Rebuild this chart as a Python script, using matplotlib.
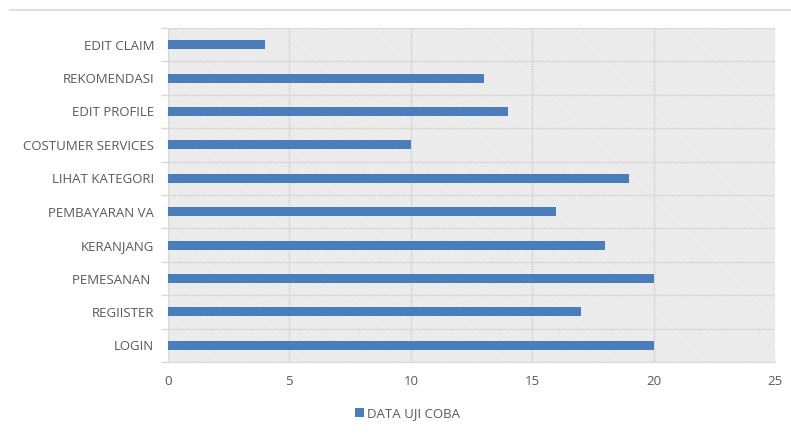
import numpy as np
import matplotlib.pyplot as plt
from matplotlib.lines import Line2D
from matplotlib.patches import Rectangle

categories = ["LOGIN", "REGIISTER", "PEMESANAN ", "KERANJANG", "PEMBAYARAN VA",
              "LIHAT KATEGORI", "COSTUMER SERVICES", "EDIT PROFILE", "REKOMENDASI", "EDIT CLAIM"]
values = [20, 17, 20, 18, 16, 19, 10, 14, 13, 4]
series_name = "DATA UJI COBA"
x_ticks = [0, 5, 10, 15, 20, 25]

plt.rcParams["font.family"] = ["Open Sans", "DejaVu Sans"]
plt.rcParams["hatch.color"] = "#dcdcdc"
plt.rcParams["hatch.linewidth"] = 0.6

text_color = "#595959"
grid_color = "#d9d9d9"
bar_color = "#4a7ebb"

fig = plt.figure(figsize=(7.91, 4.36), dpi=100)
ax = fig.add_axes([0.2124, 0.1697, 0.7674, 0.7661])

# hatched plot background
ax.add_patch(Rectangle((0, 0), 1, 1, transform=ax.transAxes, facecolor="white",
                       edgecolor=grid_color, hatch="\\" * 14, linewidth=0, zorder=0))

y = np.arange(len(categories))
ax.barh(y, values, height=0.27, color=bar_color, zorder=3, label=series_name)

ax.set_xlim(0, 25)
ax.set_ylim(-0.5, len(categories) - 0.5)
ax.set_xticks(x_ticks)
ax.set_xticklabels([str(t) for t in x_ticks])
ax.set_yticks(y)
ax.set_yticklabels(categories)
ax.set_yticks(np.arange(-0.5, len(categories)), minor=True)

ax.tick_params(axis="x", length=0, pad=9, labelsize=9.5, colors=text_color)
ax.tick_params(axis="y", which="major", length=0, pad=10, labelsize=9.5, colors=text_color)
ax.tick_params(axis="y", which="minor", length=5, color=grid_color, width=1)

for xv in x_ticks:
    ax.axvline(xv, color=grid_color, linewidth=1, zorder=1)
for yv in np.arange(-0.5, len(categories)):
    ax.axhline(yv, color=grid_color, linewidth=1, zorder=1)

for side in ["top", "right"]:
    ax.spines[side].set_visible(False)
for side in ["left", "bottom"]:
    ax.spines[side].set_color(grid_color)

fig.add_artist(Line2D([0.013, 1.0], [0.977, 0.977], color="#d9d9d9", linewidth=1.2,
                      transform=fig.transFigure))

leg = fig.legend(loc="center", bbox_to_anchor=(0.515, 0.052), frameon=False,
                 fontsize=9.5, handlelength=0.7, handleheight=0.7, handletextpad=0.2)
for t in leg.get_texts():
    t.set_color(text_color)

fig.savefig("out.png", dpi=100)
